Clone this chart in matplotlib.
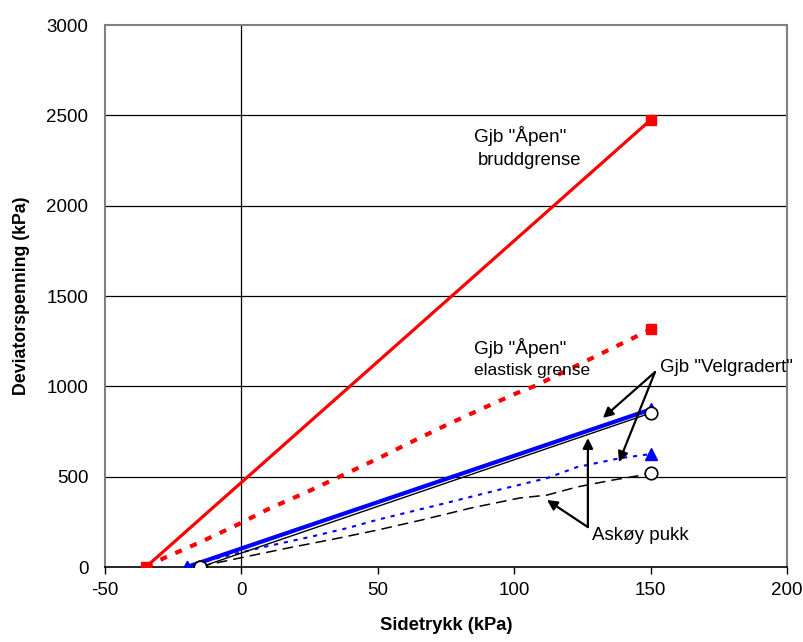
import matplotlib
matplotlib.use("Agg")
import matplotlib.pyplot as plt

plt.rcParams['font.family'] = ['Liberation Sans', 'DejaVu Sans']
plt.rcParams['axes.unicode_minus'] = False

# Gjb "Åpen" bruddgrense
brudd_x = [-35, 150]
brudd_y = [0, 2475]

# Gjb "Åpen" elastisk grense
elast_x = [-35, -28, -15, -2, 10, 24, 36, 50, 62, 75, 88, 101, 108, 150]
elast_y = [0, 52, 138, 230, 322, 415, 500, 600, 690, 785, 875, 963, 1005, 1315]

# Gjb "Velgradert" bruddgrense / elastisk
velg_x = [-20, 150]
velg_y = [0, 872]
velg_el_x = [-20, -10, 8, 25, 39, 50, 72, 94, 112, 123, 139, 150]
velg_el_y = [0, 45, 110, 166, 216, 262, 343, 426, 492, 553, 603, 625]

# Askøy pukk bruddgrense / elastisk
ask_x = [-15, 150]
ask_y = [0, 852]
ask_el_x = [-15, -11, 1, 17, 34, 50, 66, 84, 102, 112, 123, 136, 147, 150]
ask_el_y = [0, 17, 55, 105, 155, 205, 260, 326, 382, 398, 443, 481, 509, 518]

fig = plt.figure(figsize=(8.04, 6.42), dpi=100)
ax = fig.add_axes([0.1306, 0.1168, 0.8483, 0.8442])

for y in [500, 1000, 1500, 2000, 2500]:
    ax.axhline(y, color='black', lw=0.9, zorder=1)
ax.axvline(0, color='black', lw=0.9, zorder=1)

ax.plot(brudd_x, brudd_y, color='red', lw=2.3, marker='s', ms=7, zorder=3)
ax.plot(elast_x, elast_y, color='red', lw=3, dashes=(1.7, 2.2), zorder=3)
ax.plot([elast_x[-1]], [elast_y[-1]], 's', color='red', ms=7, zorder=4)

ax.plot(velg_x, velg_y, color='blue', lw=3, marker='^', ms=8, zorder=3)
ax.plot(velg_el_x, velg_el_y, color='blue', lw=1.5, dashes=(2, 2.8), zorder=3)
ax.plot([velg_el_x[0], velg_el_x[-1]], [velg_el_y[0], velg_el_y[-1]], '^', color='blue', ms=8, zorder=4)

ax.plot(ask_x, ask_y, color='black', lw=1, marker='o', ms=9, mfc='white', mec='black', mew=1.2, zorder=4)
ax.plot(ask_el_x, ask_el_y, color='black', lw=1.1, dashes=(7, 4), zorder=3)
ax.plot([ask_el_x[0], ask_el_x[-1]], [ask_el_y[0], ask_el_y[-1]], 'o', ms=9, mfc='white', mec='black', mew=1.2, zorder=5)

ax.set_xlim(-50, 200)
ax.set_ylim(0, 3000)
ax.set_xticks([-50, 0, 50, 100, 150, 200])
ax.set_yticks([0, 500, 1000, 1500, 2000, 2500, 3000])
ax.tick_params(axis='x', direction='out', length=5, width=1, labelsize=13.5, pad=6)
ax.tick_params(axis='y', length=0, labelsize=13.5, pad=12)

for s in ['left', 'top', 'right']:
    ax.spines[s].set_color('#808080')
    ax.spines[s].set_linewidth(1.5)
ax.spines['bottom'].set_color('black')
ax.spines['bottom'].set_linewidth(1.2)

ax.set_xlabel('Sidetrykk (kPa)', fontsize=13.2, fontweight='bold', labelpad=13)
ax.set_ylabel('Deviatorspenning (kPa)', fontsize=12.8, fontweight='bold', labelpad=12)

ax.text(85.3, 2385, 'Gjb "Åpen"', fontsize=13.7, va='center')
ax.text(86.7, 2252, 'bruddgrense', fontsize=13.3, va='center')
ax.text(85.3, 1212, 'Gjb "Åpen"', fontsize=13.7, va='center')
ax.text(85.3, 1085, 'elastisk grense', fontsize=12.5, va='center')
ax.text(153.4, 1107, 'Gjb "Velgradert"', fontsize=13.5, va='center')
ax.text(128.5, 177, 'Askøy pukk', fontsize=13.5, va='center')

arr = dict(arrowstyle='-|>', color='black', lw=1.6, mutation_scale=15, shrinkA=0, shrinkB=0)
for hx, hy in [(132.5, 825), (138.4, 581)]:
    ax.annotate('', xy=(hx, hy), xytext=(151.6, 1079), arrowprops=arr, zorder=6)
for hx, hy in [(127, 714), (112, 371)]:
    ax.annotate('', xy=(hx, hy), xytext=(127, 221), arrowprops=arr, zorder=6)

fig.savefig('out.png', dpi=100)
